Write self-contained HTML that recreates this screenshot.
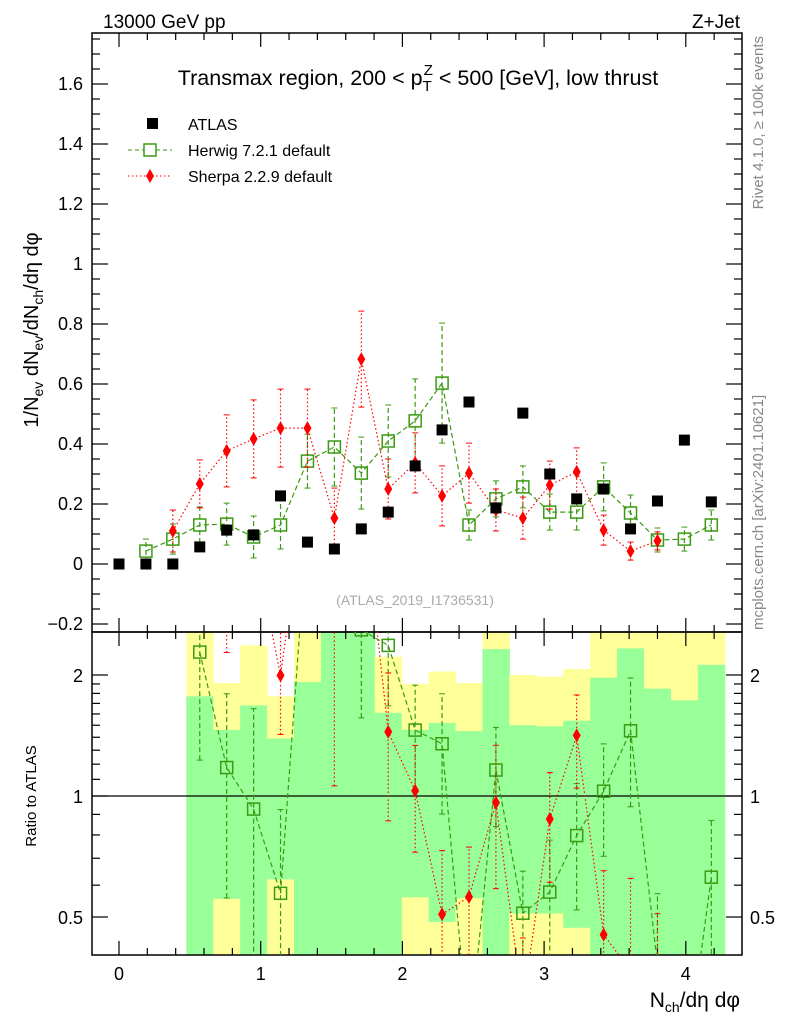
<!DOCTYPE html>
<html><head><meta charset="utf-8"><style>
html,body{margin:0;background:#fff;overflow:hidden;width:786px;height:1024px;}
svg{display:block;font-family:"Liberation Sans",sans-serif;}
</style></head><body>
<svg id="c" width="786" height="1024" viewBox="0 0 786 1024" xmlns="http://www.w3.org/2000/svg">
<text x="103" y="28" font-size="19">13000 GeV pp</text>
<text x="740" y="28" font-size="19" text-anchor="end">Z+Jet</text>
<text transform="translate(763,36) rotate(-90)" font-size="15" fill="#888" text-anchor="end">Rivet 4.1.0, ≥ 100k events</text>
<text transform="translate(763,630) rotate(-90)" font-size="15" fill="#888" text-anchor="start">mcplots.cern.ch [arXiv:2401.10621]</text>
<text x="418" y="85" font-size="21.5" text-anchor="middle">Transmax region, 200 &lt; p<tspan font-size="15" dy="6">T</tspan><tspan font-size="15" dx="-8" dy="-16">Z</tspan><tspan dy="10"> &lt; 500 [GeV], low thrust</tspan></text>
<text x="415" y="605" font-size="14" fill="#aaa" text-anchor="middle">(ATLAS_2019_I1736531)</text>
<text transform="translate(38,330) rotate(-90)" font-size="20" text-anchor="middle">1/N<tspan font-size="14" dy="5">ev</tspan><tspan dy="-5"> dN</tspan><tspan font-size="14" dy="5">ev</tspan><tspan dy="-5">/dN</tspan><tspan font-size="14" dy="5">ch</tspan><tspan dy="-5">/dη dφ</tspan></text>
<text transform="translate(36,796) rotate(-90)" font-size="15" text-anchor="middle">Ratio to ATLAS</text>
<text x="740" y="1007" font-size="21" text-anchor="end">N<tspan font-size="14" dy="5">ch</tspan><tspan dy="-5">/dη dφ</tspan></text>
<g id="legend">
<rect x="147" y="118" width="11" height="11" fill="#000"/>
<text x="188" y="130" font-size="16">ATLAS</text>
<line x1="128" y1="150" x2="172" y2="150" stroke="#3a9a10" stroke-dasharray="4,3"/>
<rect x="144" y="144" width="12" height="12" fill="#fff" stroke="#3a9a10" stroke-width="1.5"/>
<text x="188" y="156" font-size="16">Herwig 7.2.1 default</text>
<line x1="128" y1="176" x2="172" y2="176" stroke="#f00" stroke-dasharray="1.5,2.5"/>
<polygon points="150,169 154,176 150,183 146,176" fill="#f00"/>
<text x="188" y="182" font-size="16">Sherpa 2.2.9 default</text>
</g>
</svg>
<script>
const xs=[0,0.19,0.38,0.57,0.76,0.95,1.14,1.33,1.52,1.71,1.9,2.09,2.28,2.47,2.66,2.85,3.04,3.23,3.42,3.61,3.8,3.99,4.18];
const atlasVals=[0,0,0,0.057,0.113,0.097,0.227,0.073,0.05,0.117,0.173,0.327,0.447,0.54,0.187,0.503,0.3,0.217,0.25,0.117,0.21,0.413,0.207];
const herwigVals=[null,0.043,0.083,0.13,0.133,0.09,0.13,0.343,0.39,0.303,0.41,0.477,0.603,0.13,0.217,0.257,0.173,0.173,0.257,0.17,0.08,0.083,0.13];
const herwigErr=[null,0.04,0.05,0.06,0.07,0.07,0.08,0.09,0.13,0.12,0.12,0.14,0.2,0.05,0.06,0.07,0.06,0.06,0.08,0.06,0.04,0.04,0.05];
const sherpaVals=[null,null,0.11,0.267,0.377,0.417,0.453,0.453,0.153,0.683,0.25,0.337,0.227,0.303,0.18,0.153,0.263,0.307,0.113,0.043,0.077,null,null];
const sherpaErr=[null,null,0.07,0.08,0.12,0.13,0.13,0.13,0.1,0.16,0.1,0.1,0.1,0.1,0.07,0.07,0.08,0.08,0.05,0.03,0.03,null,null];
const greenUp=[null,null,null,1.77,1.46,1.68,1.39,1.92,3,3,1.61,1.46,1.52,1.45,2.32,1.5,1.49,1.54,1.97,2.33,1.85,1.73,2.12];
const greenDn=[null,null,null,0.3,0.555,0.3,0.62,0.3,0.3,0.3,0.3,0.56,0.486,0.557,0.3,0.51,0.51,0.47,0.3,0.3,0.3,0.3,0.3];
const yellowUp=[null,null,null,3,1.91,2.37,1.77,3,3,3,2.22,1.9,2.04,1.91,3,2.0,1.98,2.07,3,3,3,3,3];
const yellowDn=[null,null,null,0.3,0.3,0.3,0.3,0.3,0.3,0.3,0.3,0.3,0.3,0.3,0.3,0.3,0.3,0.3,0.3,0.3,0.3,0.3,0.3];
const yTicks=[-0.2,0,0.2,0.4,0.6,0.8,1,1.2,1.4,1.6];
const yTickLabels=["−0.2","0","0.2","0.4","0.6","0.8","1","1.2","1.4","1.6"];
const xTicks=[0,1,2,3,4];
const rTicks=[0.5,1,2];
const rTickLabels=["0.5","1","2"];

const NS="http://www.w3.org/2000/svg",svg=document.getElementById('c');
const L=92,R=742,T=33,B=632,RT=632,RB=955;
const X=v=>119+v*141.7, Y=v=>564-v*300, RY=v=>796-Math.log2(v)*121;
const rMin=2**((796-RB)/121), rMax=2**((796-RT)/121);
function el(tag,a,p){const e=document.createElementNS(NS,tag);for(const k in a)e.setAttribute(k,a[k]);(p||svg).appendChild(e);return e;}
const clampR=v=>Math.min(Math.max(v,rMin),rMax);
const gB=el('g',{});


for(let i=0;i<xs.length;i++){ if(greenUp[i]==null)continue;
 const x0=X(xs[i]-0.095),x1=X(xs[i]+0.095);
 let r=el('rect',{x:x0,y:RY(clampR(yellowUp[i])),width:x1-x0+0.5,height:RY(clampR(yellowDn[i]))-RY(clampR(yellowUp[i])),fill:'#ffff99'},gB);
 
 
 r=el('rect',{x:x0,y:RY(clampR(greenUp[i])),width:x1-x0+0.5,height:RY(clampR(greenDn[i]))-RY(clampR(greenUp[i])),fill:'#99ff99'},gB);
 
 
}
let f=el('rect',{x:L,y:T,width:R-L,height:B-T,fill:'none',stroke:'#000','stroke-width':1.5});


f=el('rect',{x:L,y:RT,width:R-L,height:RB-RT,fill:'none',stroke:'#000','stroke-width':1.5});


f=el('line',{x1:L,x2:R,y1:RY(1),y2:RY(1),stroke:'#000','stroke-width':1.2});


const ax=el('g',{stroke:'#000','stroke-width':1.2});


for(let v=-0.2;v<=4.41;v+=0.2){const x=X(v);if(x<L||x>R)continue;const maj=Math.abs(v-Math.round(v))<1e-6;const h=maj?14:7;
 for(const [a,b] of [[T,T+h],[B,B-h],[RT,RT+h],[RB,RB-h]]) el('line',{x1:x,x2:x,y1:a,y2:b},ax);}
xTicks.forEach(v=>{const t=el('text',{x:X(v),y:980,'font-size':18,'text-anchor':'middle'});t.textContent=v;
 
 });
for(let v=-0.2;v<=1.76;v+=0.05){const y=Y(v);if(y<T||y>B)continue;const maj=Math.abs(v*5-Math.round(v*5))<1e-6;const h=maj?16:8;
 el('line',{x1:L,x2:L+h,y1:y,y2:y},ax);el('line',{x1:R,x2:R-h,y1:y,y2:y},ax);}
yTicks.forEach((v,i)=>{const t=el('text',{x:83,y:Y(v)+6,'font-size':18,'text-anchor':'end'});t.textContent=yTickLabels[i];
 
 });
[0.4,0.5,0.6,0.7,0.8,0.9,1,2,1.1,1.2,1.3,1.4,1.5,1.6,1.7,1.8,1.9].forEach(v=>{const y=RY(v);if(y<RT||y>RB)return;const maj=rTicks.includes(v);const h=maj?16:8;
 el('line',{x1:L,x2:L+h,y1:y,y2:y},ax);el('line',{x1:R,x2:R-h,y1:y,y2:y},ax);});
rTicks.forEach((v,i)=>{for(const [x,a] of [[83,'end'],[750,'start']]){const t=el('text',{x:x,y:RY(v)+7,'font-size':18,'text-anchor':a});t.textContent=rTickLabels[i];
 
 }});
const defs=el('defs',{});
const c1=el('clipPath',{id:'cm'},defs);el('rect',{x:L,y:T,width:R-L,height:B-T},c1);
const c2=el('clipPath',{id:'cr'},defs);el('rect',{x:L,y:RT,width:R-L,height:RB-RT},c2);
function series(vals,errs,yf,color,dash,marker,name,clip){
 const g=el('g',{'clip-path':'url(#'+clip+')'});
 
 
 let pts=[];
 vals.forEach((v,i)=>{if(v==null||!isFinite(v))return;pts.push(X(xs[i])+','+yf(v));});
 el('polyline',{points:pts.join(' '),fill:'none',stroke:color,'stroke-dasharray':dash,'stroke-width':1.2},g);
 vals.forEach((v,i)=>{if(v==null||!isFinite(v))return;const x=X(xs[i]);
  if(errs){const e=errs[i];const y1=yf(Math.max(v-e,1e-3)),y2=yf(v+e);
   el('line',{x1:x,x2:x,y1:y1,y2:y2,stroke:color,'stroke-dasharray':dash,'stroke-width':1.2},g);
   el('line',{x1:x-3,x2:x+3,y1:y1,y2:y1,stroke:color},g);el('line',{x1:x-3,x2:x+3,y1:y2,y2:y2,stroke:color},g);}
  const y=yf(v);let m;
  if(marker==='sq') m=el('rect',{x:x-6,y:y-6,width:12,height:12,fill:'none',stroke:color,'stroke-width':1.5},g);
  else m=el('polygon',{points:`${x},${y-7} ${x+4},${y} ${x},${y+7} ${x-4},${y}`,fill:color},g);
  
  
 });
}
series(herwigVals,herwigErr,Y,'#3a9a10','5,3','sq','herwig-series','cm');
series(sherpaVals,sherpaErr,Y,'#f00','1.5,2.5','dia','sherpa-series','cm');
const ga=el('g',{'clip-path':'url(#cm)'});


atlasVals.forEach((v,i)=>{const m=el('rect',{x:X(xs[i])-5.5,y:Y(v)-5.5,width:11,height:11,fill:'#000'},ga);
 
 });
const hr=herwigVals.map((v,i)=>v==null||!atlasVals[i]?null:v/atlasVals[i]);
const hre=herwigErr.map((e,i)=>e==null||!atlasVals[i]?null:e/atlasVals[i]);
const sr=sherpaVals.map((v,i)=>v==null||!atlasVals[i]?null:v/atlasVals[i]);
const sre=sherpaErr.map((e,i)=>e==null||!atlasVals[i]?null:e/atlasVals[i]);
series(hr,hre,RY,'#3a9a10','5,3','sq','herwig-ratio-series','cr');
series(sr,sre,RY,'#f00','1.5,2.5','dia','sherpa-ratio-series','cr');
</script>
</body></html>
